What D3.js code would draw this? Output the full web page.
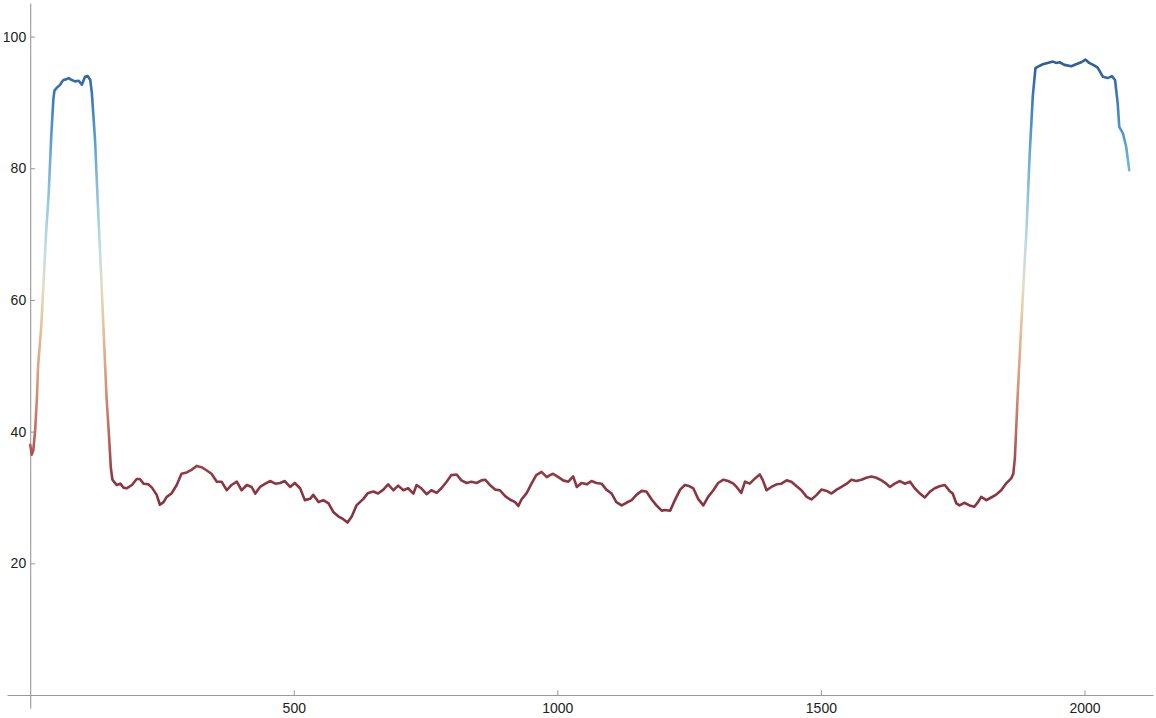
<!DOCTYPE html>
<html>
<head>
<meta charset="utf-8">
<script src="https://cdn.jsdelivr.net/npm/d3@7"></script>
<style>
  body { margin: 0; background: #fff; }
  #image text { font-family: "Liberation Sans", Arial, sans-serif; font-size: 14px; fill: #222; }
</style>
</head>
<body>
<div id="image"></div>
<script>
// sample positions (x) and readings (y)
var sampleX = [0,3,6,9.5,12.6,15,18,21,25,30,35,40,44,46,50,53,57,60,63,68,73,79,85,92,98,104,109,114,117,123,128,135,140,145,149,153,156,
  160,164,171,177,183,193,202,208,215,224,231,240,246,253,259,268,278,287,297,306,316,325,335,344,354,363,373,382,392,401,411,420,427,436,446,455,465,474,483,493,
  502,512,521,531,537,547,556,566,575,585,594,602,610,619,632,641,651,660,670,679,689,698,708,717,727,733,742,752,761,771,780,790,799,809,818,828,837,847,856,863,872,882,891,
  901,910,920,926,932,942,951,960,970,980,986,992,1002,1011,1021,1030,1037,1046,1056,1065,1074,1084,1093,1103,1112,1122,1131,1141,1150,1160,1169,1179,1188,1198,
  1204,1214,1223,1233,1242,1251,1258,1267,1277,1286,1296,1305,1315,1324,1334,1340,1349,1356,1365,1375,1384,1390,1397,1406,1416,1425,1435,1444,1454,1463,1473,1482,1492,
  1501,1511,1520,1530,1539,1549,1558,1567,1577,1586,1596,1605,1615,1624,1631,1640,1650,1659,1669,1678,1688,1697,1707,1716,1725,1735,1744,1750,1757,1763,1772,1782,1791,1798,
  1804,1814,1823,1832,1842,1851,1861,1865,1868,1873,1880,1886,1890,1896,1902,1907,1911,1921,1930,1940,1946,1953,1962,1975,1984,1994,
  2002,2009,2019,2025,2035,2044,2052,2058,2063,2066,2073,2079,2085];
var sampleY = [38.0,36.5,37.2,40.3,44.8,50,53,56,62,70,76,85,90.5,91.8,92.2,92.4,92.7,93.1,93.4,93.5,93.7,93.4,93.2,93.3,92.7,93.9,94.0,93.4,91.4,84.3,75.2,63,54,45,40,34.5,32.7,
  32.3,31.9,32.1,31.5,31.4,31.9,32.8,32.8,32.1,32.0,31.5,30.4,28.9,29.3,30.1,30.6,31.9,33.6,33.8,34.2,34.8,34.6,34.1,33.6,32.4,32.4,31.1,31.9,32.4,31.1,31.9,31.6,30.6,31.6,32.1,32.5,32.1,32.2,32.5,31.6,
  32.2,31.4,29.6,29.8,30.4,29.3,29.6,29.1,27.8,27.1,26.7,26.2,27.1,28.8,29.8,30.7,30.9,30.6,31.2,32.0,31.1,31.8,31.1,31.4,30.6,31.9,31.4,30.5,31.1,30.7,31.4,32.4,33.4,33.5,32.6,32.2,32.4,32.2,32.6,32.7,31.9,31.2,31.1,
  30.2,29.7,29.3,28.7,29.7,30.7,32.1,33.4,33.9,33.1,33.4,33.6,33.1,32.6,32.4,33.2,31.6,32.2,32.0,32.5,32.2,32.1,31.2,30.6,29.3,28.8,29.2,29.6,30.4,31.0,30.9,29.7,28.8,28.0,
  28.1,28.0,29.6,31.2,31.9,31.7,31.4,29.8,28.8,30.1,31.1,32.2,32.7,32.5,32.1,31.6,30.7,32.4,32.1,32.9,33.5,32.6,31.1,31.6,32.0,32.1,32.6,32.4,31.7,31.1,30.1,29.7,30.4,
  31.2,31.0,30.6,31.2,31.6,32.1,32.7,32.5,32.7,33.0,33.2,33.0,32.6,32.1,31.6,32.1,32.5,32.1,32.4,31.4,30.6,30.0,30.9,31.4,31.7,31.9,31.0,30.6,29.1,28.8,29.2,28.8,28.6,29.3,
  30.1,29.6,30.0,30.4,31.1,32.1,32.9,33.6,36,45,56,65,70.6,82,91,95.2,95.4,95.8,96.0,96.2,96.0,96.1,95.7,95.5,95.8,96.1,
  96.5,96.0,95.6,95.3,93.9,93.7,94.0,93.4,89.9,86.3,85.3,83.3,79.7];

var xMajor = [500, 1000, 1500, 2000];
var xMinor = d3.range(100, 2200, 100);
var yMajor = [20, 40, 60, 80, 100];
var yMinor = d3.range(5, 105, 5);

// colour stops along the value range (red low -> blue high)
var colorValues = [26, 33, 40, 47, 55, 62, 68, 75, 82, 89, 97];
var colorList = ["#85303c","#8f3742","#c06a60","#d99476","#e6bd92","#e6dcc0","#bddde3","#96c8de","#6aaad3","#4283c0","#2a5898"];

var width = 1156, height = 718;
var data = sampleX.map(function(d, i) { return {x: d, y: sampleY[i]}; });

var x = d3.scaleLinear().domain([-44, 2130]).range([7, 1153]);
var y = d3.scaleLinear().domain([-2, 105.1]).range([708.2, 3]);

svg = d3.select("#image").append("svg").attr("width", width).attr("height", height);
g = svg.append("g");

var color = d3.scaleLinear().domain(colorValues).range(colorList);
var lo = d3.min(colorValues), hi = d3.max(colorValues);

var grad = svg.append("defs").append("linearGradient")
    .attr("id", "valgrad")
    .attr("gradientUnits", "userSpaceOnUse")
    .attr("x1", 0).attr("x2", 0)
    .attr("y1", y(lo)).attr("y2", y(hi));
grad.selectAll("stop")
    .data(colorValues)
    .enter().append("stop")
    .attr("offset", function(d) { return (d - lo) / (hi - lo); })
    .attr("stop-color", function(d) { return color(d); });

// axes crossing at the origin
function drawAxes() {
    var ax = g.append("g").attr("transform", "translate(0," + y(0) + ")");
    ax.call(d3.axisBottom(x).tickValues(xMinor).tickSize(-2.8).tickSizeOuter(0).tickFormat(""));
    ax.call(d3.axisBottom(x).tickValues(xMajor).tickSize(-4.8).tickSizeOuter(0).tickPadding(8.5).tickFormat(d3.format("d")));

    var ay = g.append("g").attr("transform", "translate(" + x(0) + ",0)");
    ay.call(d3.axisLeft(y).tickValues(yMinor).tickSize(-2.8).tickSizeOuter(0).tickFormat(""));
    ay.call(d3.axisLeft(y).tickValues(yMajor).tickSize(-4.8).tickSizeOuter(0).tickPadding(4).tickFormat(d3.format("d")));

    g.selectAll(".domain").attr("stroke", "#999").attr("stroke-width", 1.1);
    g.selectAll(".tick line").attr("stroke", "#999");
    g.selectAll(".tick text").attr("font-size", null).attr("font-family", null);
}

drawAxes();

var line = d3.line()
    .x(function(d) { return x(d.x); })
    .y(function(d) { return y(d.y); });

g.append("path")
    .datum(data)
    .attr("d", line)
    .attr("fill", "none")
    .attr("stroke", "url(#valgrad)")
    .attr("stroke-width", 2.6)
    .attr("stroke-linejoin", "round")
    .attr("stroke-linecap", "round");
</script>
</body>
</html>
